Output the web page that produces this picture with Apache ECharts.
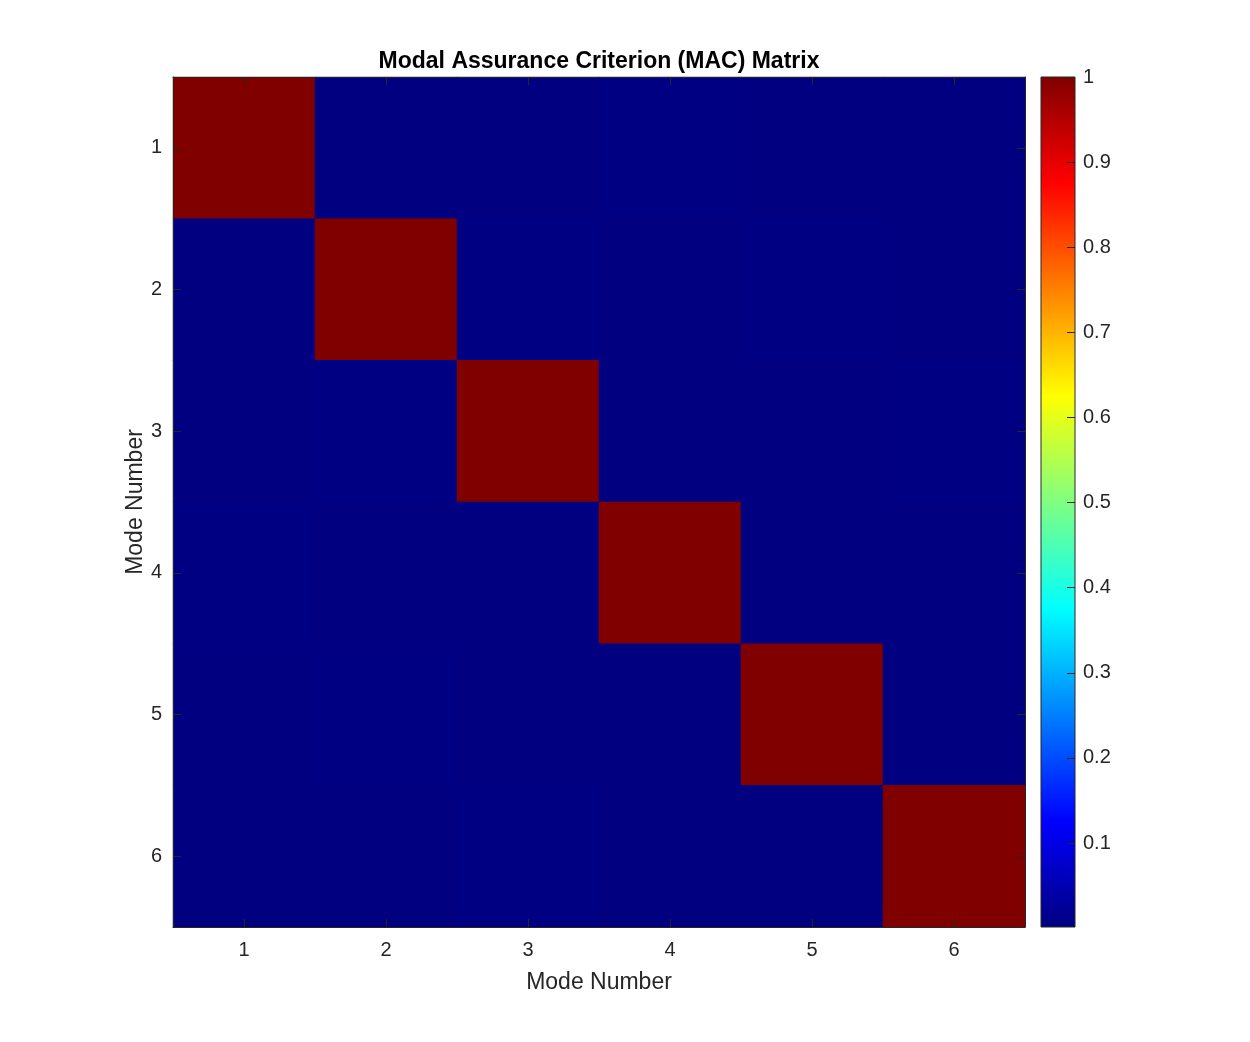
<!DOCTYPE html>
<html><head><meta charset="utf-8">
<script src="https://cdn.jsdelivr.net/npm/echarts@6/dist/echarts.min.js"></script>
<style>html,body{margin:0;padding:0;background:#fff}#c{width:1250px;height:1042px}</style>
</head><body><div id="c"></div>
<script>
const modes = ['1','2','3','4','5','6'];
const macMatrix = [
  [1.0000, 0.0021, 0.0013, 0.0030, 0.0017, 0.0025],
  [0.0021, 1.0000, 0.0028, 0.0015, 0.0032, 0.0019],
  [0.0013, 0.0028, 1.0000, 0.0024, 0.0016, 0.0029],
  [0.0030, 0.0015, 0.0024, 1.0000, 0.0022, 0.0014],
  [0.0017, 0.0032, 0.0016, 0.0022, 1.0000, 0.0027],
  [0.0025, 0.0019, 0.0029, 0.0014, 0.0027, 1.0000]
];
const colorbarTicks = [0.1,0.2,0.3,0.4,0.5,0.6,0.7,0.8,0.9,1];
const jet = ['#000080','#0000ff','#0080ff','#00ffff','#80ff80','#ffff00','#ff8000','#ff0000','#800000'];

const heatData = [];
let cmin = Infinity, cmax = -Infinity;
macMatrix.forEach((row, r) => row.forEach((v, c) => {
  heatData.push([c, r, v]);
  cmin = Math.min(cmin, v); cmax = Math.max(cmax, v);
}));

const FONT = 'Liberation Sans, Arial, Helvetica, sans-serif';
const TXT = '#262626';
const chart = echarts.init(document.getElementById('c'), null, {renderer: 'canvas'});

const axisCommon = {
  type: 'category', data: modes, z: 10,
  axisLine: {show: true, onZero: false, lineStyle: {color: TXT, width: 1}},
  axisTick: {show: true, inside: true, length: 8, alignWithLabel: true, interval: 0, lineStyle: {color: TXT}},
  splitLine: {show: false}, splitArea: {show: false}
};

chart.setOption({
  animation: false,
  backgroundColor: '#fff',
  title: {
    text: 'Modal Assurance Criterion (MAC) Matrix',
    left: 594, textAlign: 'center', top: 45,
    textStyle: {fontFamily: FONT, fontSize: 23, fontWeight: 'bold', color: '#000'}
  },
  grid: [
    {left: 173, top: 77, width: 852, height: 850},
    {left: 1041, top: 77, width: 34, height: 850}
  ],
  xAxis: [
    Object.assign({}, axisCommon, {gridIndex: 0, position: 'bottom',
      name: 'Mode Number', nameLocation: 'middle', nameGap: 44,
      nameTextStyle: {fontFamily: FONT, fontSize: 23, color: TXT},
      axisLabel: {fontFamily: FONT, fontSize: 20, color: TXT, margin: 13}}),
    Object.assign({}, axisCommon, {gridIndex: 0, position: 'top', axisLabel: {show: false}}),
    {type: 'value', gridIndex: 1, min: 0, max: 1, show: false, axisLine: {onZero: false}}
  ],
  yAxis: [
    Object.assign({}, axisCommon, {gridIndex: 0, position: 'left', inverse: true,
      name: 'Mode Number', nameLocation: 'middle', nameGap: 26, nameRotate: 90,
      nameMoveOverlap: false,
      nameTextStyle: {fontFamily: FONT, fontSize: 23, color: TXT},
      axisLabel: {fontFamily: FONT, fontSize: 20, color: TXT, margin: 11}}),
    Object.assign({}, axisCommon, {gridIndex: 0, position: 'right', inverse: true, axisLabel: {show: false}}),
    {type: 'value', gridIndex: 1, position: 'right', min: cmin, max: cmax, z: 10,
      axisLine: {show: false, onZero: false},
      axisTick: {show: true, inside: true, length: 8, lineStyle: {color: TXT}, customValues: colorbarTicks},
      axisLabel: {fontFamily: FONT, fontSize: 20, color: TXT, margin: 8, customValues: colorbarTicks,
        formatter: function (v) { return String(Math.round(v * 10) / 10); }},
      splitLine: {show: false}}
  ],
  visualMap: {
    show: false, type: 'continuous', seriesIndex: 0, dimension: 2,
    min: cmin, max: cmax, inRange: {color: jet}
  },
  series: [
    {
      type: 'heatmap', xAxisIndex: 0, yAxisIndex: 0, data: heatData,
      itemStyle: {borderWidth: 0}, emphasis: {disabled: true}
    },
    {
      type: 'custom', xAxisIndex: 2, yAxisIndex: 2, silent: true, z: 1,
      data: [[0, cmin, 1, cmax]],
      renderItem: function (params, api) {
        const p0 = api.coord([api.value(0), api.value(1)]);
        const p1 = api.coord([api.value(2), api.value(3)]);
        const stops = jet.map((c, i) => ({offset: i / (jet.length - 1), color: c}));
        return {
          type: 'rect',
          shape: {x: p0[0], y: p1[1], width: p1[0] - p0[0], height: p0[1] - p1[1]},
          style: {
            fill: new echarts.graphic.LinearGradient(0, 1, 0, 0, stops),
            stroke: TXT, lineWidth: 1
          }
        };
      }
    }
  ]
});
</script></body></html>
